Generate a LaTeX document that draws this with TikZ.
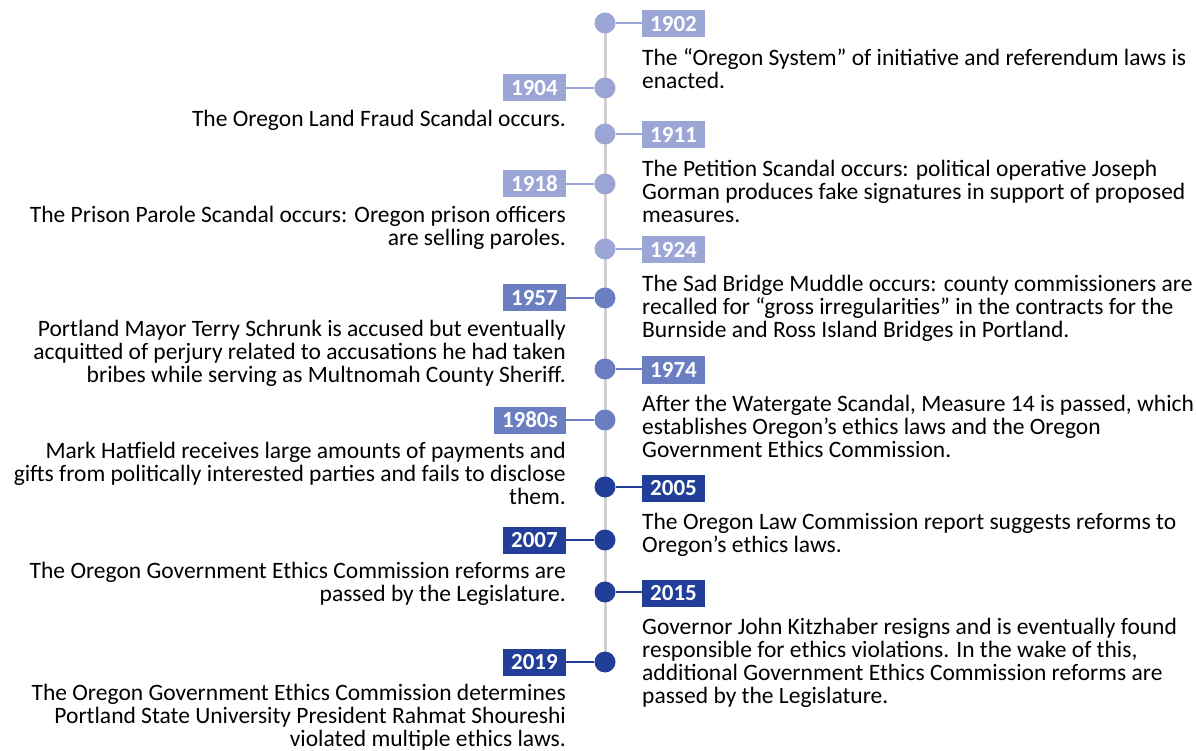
\documentclass[tikz,border=0pt]{standalone}
\usepackage{fontspec}
\setmainfont{Carlito}
\usetikzlibrary{positioning}
\definecolor{earlyblue}{RGB}{155,166,215}
\definecolor{midblue}{RGB}{107,126,194}
\definecolor{lateblue}{RGB}{33,62,153}
\definecolor{spinegray}{RGB}{208,208,208}
\setlength{\lineskiplimit}{-100pt}

\begin{document}
\begin{tikzpicture}[x=1pt,y=-1pt,
    dot/.style={circle,fill=#1,minimum size=21pt,inner sep=0pt},
    yearbox/.style={fill=#1,text=white,font=\bfseries\fontsize{23}{23}\selectfont,
                    inner xsep=8pt,inner ysep=0pt,minimum height=27pt},
    note/.style={font=\fontsize{23.5}{23}\selectfont,inner sep=0pt},
    link/.style={draw=#1,line width=2pt}]
\useasboundingbox (0,0) rectangle (1197,751);
\coordinate (top) at (605,23);
\coordinate (bottom) at (605,662);
\draw[spinegray,line width=3pt] (top) -- (bottom);

% events to the right of the line
\foreach \y/\yr/\col/\txt in {
    23/1902/earlyblue/{The “Oregon System” of initiative and referendum laws is\\enacted.},
    134/1911/earlyblue/{The Petition Scandal occurs: political operative Joseph\\Gorman produces fake signatures in support of proposed\\measures.},
    249/1924/earlyblue/{The Sad Bridge Muddle occurs: county commissioners are\\recalled for “gross irregularities” in the contracts for the\\Burnside and Ross Island Bridges in Portland.},
    369/1974/midblue/{After the Watergate Scandal, Measure 14 is passed, which\\establishes Oregon’s ethics laws and the Oregon\\Government Ethics Commission.},
    487/2005/lateblue/{The Oregon Law Commission report suggests reforms to\\Oregon’s ethics laws.},
    592/2015/lateblue/{Governor John Kitzhaber resigns and is eventually found\\responsible for ethics violations. In the wake of this,\\additional Government Ethics Commission reforms are\\passed by the Legislature.}}
{
  \node[dot=\col] (d\yr) at (605,\y) {};
  \node[yearbox=\col,anchor=west] (y\yr) at (642,\y+1) {\yr};
  \draw[link=\col] (d\yr) -- (d\yr -| y\yr.west);
  \node[note,align=left,below right=11pt and 0pt of y\yr.south west] (t\yr) {\txt};
}

% events to the left of the line
\foreach \y/\yr/\col/\txt in {
    88/1904/earlyblue/{The Oregon Land Fraud Scandal occurs.},
    184/1918/earlyblue/{The Prison Parole Scandal occurs: Oregon prison officers\\are selling paroles.},
    298/1957/midblue/{Portland Mayor Terry Schrunk is accused but eventually\\acquitted of perjury related to accusations he had taken\\bribes while serving as Multnomah County Sheriff.},
    420/1980s/midblue/{Mark Hatfield receives large amounts of payments and\\gifts from politically interested parties and fails to disclose\\them.},
    540/2007/lateblue/{The Oregon Government Ethics Commission reforms are\\passed by the Legislature.},
    662/2019/lateblue/{The Oregon Government Ethics Commission determines\\Portland State University President Rahmat Shoureshi\\violated multiple ethics laws.}}
{
  \node[dot=\col] (d\yr) at (605,\y) {};
  \node[yearbox=\col,anchor=east] (y\yr) at (566,\y) {\yr};
  \draw[link=\col] (d\yr) -- (y\yr);
  \node[note,align=right,below left=8.5pt and 0pt of y\yr.south east] (t\yr) {\txt};
}
\end{tikzpicture}
\end{document}
